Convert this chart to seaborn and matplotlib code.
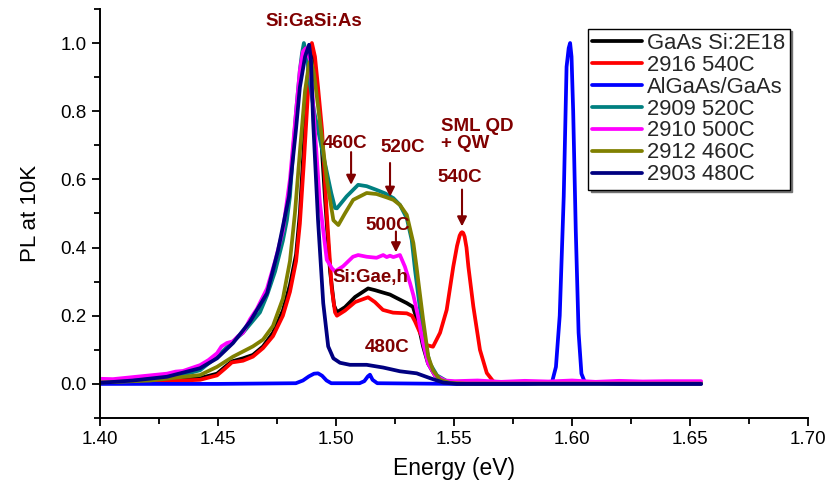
import numpy as np
import pandas as pd
import matplotlib
matplotlib.use("Agg")
import matplotlib.pyplot as plt
from matplotlib.ticker import MultipleLocator, FormatStrFormatter
import seaborn as sns

# ---------------- data ----------------
series_names = ["GaAs Si:2E18", "2916 540C", "AlGaAs/GaAs", "2909 520C",
                "2910 500C", "2912 460C", "2903 480C"]
series_colors = ["#000000", "#FF0000", "#0000FF", "#008080",
                 "#FF00FF", "#808000", "#000080"]

E_black = [1.4000, 1.4212, 1.4424, 1.4496, 1.4530, 1.4559, 1.4606, 1.4648, 1.4691, 1.4733,
           1.4775, 1.4805, 1.4831, 1.4847, 1.4864, 1.4877, 1.4890, 1.4894, 1.4903, 1.4915,
           1.4932, 1.4953, 1.4975, 1.4992, 1.5004, 1.5038, 1.5081, 1.5136, 1.5165, 1.5199,
           1.5229, 1.5257, 1.5300, 1.5326, 1.5347, 1.5369, 1.5390, 1.5419, 1.5462, 1.5504,
           1.5600, 1.5800, 1.6000, 1.6200, 1.6400, 1.6547]
I_black = [0.005, 0.008, 0.017, 0.030, 0.050, 0.066, 0.075, 0.085, 0.110, 0.150,
           0.215, 0.290, 0.380, 0.500, 0.700, 0.880, 0.970, 0.990, 0.970, 0.900,
           0.780, 0.550, 0.330, 0.230, 0.210, 0.225, 0.255, 0.280, 0.275, 0.268,
           0.262, 0.252, 0.237, 0.226, 0.180, 0.110, 0.060, 0.025, 0.008, 0.003,
           0.002, 0.002, 0.002, 0.002, 0.002, 0.002]

E_red = [1.4000, 1.4212, 1.4424, 1.4496, 1.4530, 1.4559, 1.4606, 1.4648, 1.4691, 1.4733,
         1.4775, 1.4805, 1.4831, 1.4847, 1.4864, 1.4881, 1.4890, 1.4898, 1.4911, 1.4924,
         1.4941, 1.4961, 1.4982, 1.4996, 1.5004, 1.5038, 1.5081, 1.5136, 1.5165, 1.5199,
         1.5242, 1.5300, 1.5322, 1.5335, 1.5356, 1.5384, 1.5411, 1.5441, 1.5469, 1.5497,
         1.5513, 1.5524, 1.5530, 1.5534, 1.5539, 1.5545, 1.5553, 1.5561, 1.5582, 1.5610,
         1.5639, 1.5667, 1.5695, 1.5800, 1.6000, 1.6200, 1.6400, 1.6547]
I_red = [0.003, 0.006, 0.012, 0.025, 0.045, 0.063, 0.068, 0.080, 0.105, 0.140,
         0.200, 0.270, 0.360, 0.470, 0.650, 0.850, 0.950, 1.000, 0.960, 0.870,
         0.745, 0.500, 0.280, 0.210, 0.200, 0.215, 0.240, 0.254, 0.240, 0.217,
         0.209, 0.207, 0.200, 0.183, 0.150, 0.114, 0.109, 0.150, 0.217, 0.344,
         0.405, 0.435, 0.443, 0.445, 0.443, 0.432, 0.400, 0.344, 0.227, 0.100,
         0.032, 0.007, 0.004, 0.004, 0.005, 0.004, 0.005, 0.004]

E_blue = [1.4000, 1.4500, 1.4830, 1.4860, 1.4885, 1.4907, 1.4924, 1.4941, 1.4960, 1.4980,
          1.5100, 1.5120, 1.5135, 1.5144, 1.5155, 1.5175, 1.5500, 1.5800, 1.5915, 1.5932,
          1.5948, 1.5965, 1.5977, 1.5986, 1.5992, 1.5998, 1.6005, 1.6016, 1.6028, 1.6040,
          1.6055, 1.6200, 1.6547]
I_blue = [0.000, 0.000, 0.002, 0.010, 0.022, 0.030, 0.031, 0.024, 0.010, 0.002,
          0.002, 0.008, 0.022, 0.027, 0.012, 0.002, 0.000, 0.000, 0.004, 0.050,
          0.200, 0.550, 0.930, 0.985, 1.000, 0.960, 0.800, 0.450, 0.150, 0.030,
          0.004, 0.000, 0.000]

E_teal = [1.4000, 1.4212, 1.4352, 1.4424, 1.4496, 1.4564, 1.4606, 1.4648, 1.4678, 1.4708,
          1.4742, 1.4775, 1.4792, 1.4805, 1.4818, 1.4831, 1.4847, 1.4856, 1.4864, 1.4877,
          1.4890, 1.4907, 1.4924, 1.4953, 1.4980, 1.4996, 1.5004, 1.5045, 1.5094, 1.5130,
          1.5172, 1.5208, 1.5243, 1.5271, 1.5300, 1.5321, 1.5335, 1.5356, 1.5377, 1.5398,
          1.5428, 1.5470, 1.5513, 1.5700, 1.6000, 1.6300, 1.6547]
I_teal = [0.008, 0.015, 0.027, 0.040, 0.080, 0.125, 0.150, 0.185, 0.210, 0.260,
          0.330, 0.420, 0.480, 0.550, 0.680, 0.800, 0.920, 0.970, 1.000, 0.960,
          0.880, 0.800, 0.745, 0.648, 0.560, 0.516, 0.515, 0.550, 0.584, 0.580,
          0.569, 0.559, 0.545, 0.525, 0.486, 0.422, 0.334, 0.220, 0.120, 0.060,
          0.025, 0.008, 0.004, 0.003, 0.003, 0.003, 0.003]

E_mag = [1.4000, 1.4055, 1.4140, 1.4212, 1.4284, 1.4320, 1.4352, 1.4390, 1.4424, 1.4460,
         1.4496, 1.4515, 1.4538, 1.4564, 1.4585, 1.4606, 1.4636, 1.4665, 1.4708, 1.4742,
         1.4775, 1.4805, 1.4831, 1.4847, 1.4860, 1.4873, 1.4890, 1.4903, 1.4932, 1.4961,
         1.4982, 1.4996, 1.5030, 1.5072, 1.5094, 1.5130, 1.5172, 1.5200, 1.5215, 1.5229,
         1.5243, 1.5271, 1.5292, 1.5314, 1.5328, 1.5347, 1.5369, 1.5390, 1.5419, 1.5462,
         1.5504, 1.5600, 1.5700, 1.5800, 1.5900, 1.6000, 1.6100, 1.6200, 1.6300, 1.6400,
         1.6547]
I_mag = [0.015, 0.014, 0.020, 0.025, 0.030, 0.036, 0.038, 0.047, 0.055, 0.070,
         0.090, 0.110, 0.120, 0.125, 0.140, 0.150, 0.190, 0.220, 0.280, 0.360,
         0.450, 0.600, 0.800, 0.920, 0.975, 0.985, 0.950, 0.820, 0.530, 0.364,
         0.340, 0.330, 0.345, 0.373, 0.378, 0.373, 0.370, 0.378, 0.372, 0.376,
         0.372, 0.378, 0.344, 0.295, 0.260, 0.200, 0.120, 0.060, 0.025, 0.010,
         0.008, 0.010, 0.006, 0.009, 0.007, 0.010, 0.006, 0.009, 0.007, 0.008,
         0.008]

E_olive = [1.4000, 1.4212, 1.4424, 1.4496, 1.4564, 1.4606, 1.4648, 1.4691, 1.4733, 1.4775,
           1.4805, 1.4826, 1.4847, 1.4869, 1.4886, 1.4894, 1.4907, 1.4932, 1.4961, 1.4989,
           1.5010, 1.5038, 1.5073, 1.5130, 1.5172, 1.5215, 1.5243, 1.5271, 1.5300, 1.5328,
           1.5342, 1.5349, 1.5369, 1.5391, 1.5411, 1.5441, 1.5483, 1.5550, 1.5800, 1.6100,
           1.6400, 1.6547]
I_olive = [0.004, 0.010, 0.026, 0.050, 0.080, 0.095, 0.110, 0.130, 0.170, 0.250,
           0.360, 0.500, 0.680, 0.860, 0.940, 0.950, 0.910, 0.770, 0.600, 0.480,
           0.466, 0.500, 0.540, 0.560, 0.557, 0.547, 0.540, 0.525, 0.496, 0.413,
           0.340, 0.300, 0.190, 0.080, 0.040, 0.012, 0.003, 0.001, 0.001, 0.001,
           0.001, 0.001]

E_navy = [1.4000, 1.4140, 1.4284, 1.4424, 1.4496, 1.4564, 1.4636, 1.4708, 1.4754, 1.4801,
          1.4831, 1.4847, 1.4869, 1.4886, 1.4894, 1.4903, 1.4924, 1.4946, 1.4967, 1.4989,
          1.5017, 1.5059, 1.5130, 1.5200, 1.5271, 1.5342, 1.5398, 1.5454, 1.5511, 1.5800,
          1.6200, 1.6547]
I_navy = [0.003, 0.010, 0.021, 0.046, 0.075, 0.120, 0.183, 0.266, 0.390, 0.550,
          0.750, 0.870, 0.960, 0.995, 0.950, 0.774, 0.480, 0.237, 0.110, 0.075,
          0.062, 0.056, 0.056, 0.048, 0.037, 0.031, 0.017, 0.004, 0.000, 0.000,
          0.000, 0.000]

x_ticks = [1.40, 1.45, 1.50, 1.55, 1.60, 1.65, 1.70]
y_ticks = [0.0, 0.2, 0.4, 0.6, 0.8, 1.0]

# annotation texts (label, x, y)
ann_texts = [("Si:GaSi:As", 1.4907, 1.062), ("460C", 1.5040, 0.704),
             ("520C", 1.5282, 0.692), ("540C", 1.5523, 0.604),
             ("500C", 1.5218, 0.466), ("Si:Gae,h", 1.5146, 0.311),
             ("480C", 1.5215, 0.106)]
sml_text = ("SML QD\n+ QW", 1.5447, 0.730)
# arrows (x, y_start, y_end)
arrows = [(1.5064, 0.680, 0.584), (1.5229, 0.648, 0.549),
          (1.5534, 0.570, 0.462), (1.5254, 0.447, 0.386)]

# ---------------- build frame ----------------
all_E = [E_black, E_red, E_blue, E_teal, E_mag, E_olive, E_navy]
all_I = [I_black, I_red, I_blue, I_teal, I_mag, I_olive, I_navy]
frames = []
for name, E, I in zip(series_names, all_E, all_I):
    frames.append(pd.DataFrame({"Energy": E, "PL": I, "sample": name}))
df = pd.concat(frames, ignore_index=True)

sns.set_theme(style="ticks")
plt.rcParams["font.family"] = ["Liberation Sans", "DejaVu Sans"]

fig = plt.figure(figsize=(8.33, 4.87), dpi=100)
ax = fig.add_axes([0.12, 0.1417, 0.85, 0.840])

sns.lineplot(data=df, x="Energy", y="PL", hue="sample", hue_order=series_names,
             palette=series_colors, sort=False, estimator=None, linewidth=2.7,
             ax=ax, legend=True)

ax.set_xlim(1.40, 1.70)
ax.set_ylim(-0.10, 1.10)
ax.set_xticks(x_ticks)
ax.set_yticks(y_ticks)
ax.xaxis.set_major_formatter(FormatStrFormatter("%.2f"))
ax.yaxis.set_major_formatter(FormatStrFormatter("%.1f"))
ax.xaxis.set_minor_locator(MultipleLocator(0.025))
ax.yaxis.set_minor_locator(MultipleLocator(0.1))
ax.tick_params(which="major", direction="out", length=6, width=1.3, labelsize=13.5,
               color="black", labelcolor="black")
ax.tick_params(which="minor", direction="out", length=4, width=1.3, color="black")
for s in ["top", "right"]:
    ax.spines[s].set_visible(False)
for s in ["left", "bottom"]:
    ax.spines[s].set_linewidth(1.4)
    ax.spines[s].set_color("black")
ax.set_xlabel("Energy (eV)", fontsize=16.5, color="black", labelpad=6)
ax.set_ylabel("PL at 10K", fontsize=16, color="black", labelpad=14)

handles, labels = ax.get_legend_handles_labels()
leg = ax.legend(handles, labels, loc="upper left", bbox_to_anchor=(0.689, 0.952),
                fontsize=15.8, frameon=True, fancybox=False, edgecolor="black",
                framealpha=1, labelspacing=0.04, handlelength=2.25, handletextpad=0.25,
                borderpad=0.2, borderaxespad=0,
                shadow={"color": "0.45", "alpha": 1})
leg.get_frame().set_linewidth(1.0)
for ln in leg.get_lines():
    ln.set_linewidth(2.7)

dark = "#800000"
for t, x, y in ann_texts:
    ax.text(x, y, t, color=dark, fontsize=13.5, fontweight="bold", ha="center", va="center")
ax.text(sml_text[1], sml_text[2], sml_text[0], color=dark, fontsize=13.5,
        fontweight="bold", ha="left", va="center", linespacing=1.0)
for x, y0, y1 in arrows:
    ax.annotate("", xy=(x, y1), xytext=(x, y0),
                arrowprops=dict(arrowstyle="-|>", color=dark, lw=1.5, mutation_scale=14,
                                shrinkA=0, shrinkB=0))

fig.savefig("out.png", dpi=100)
